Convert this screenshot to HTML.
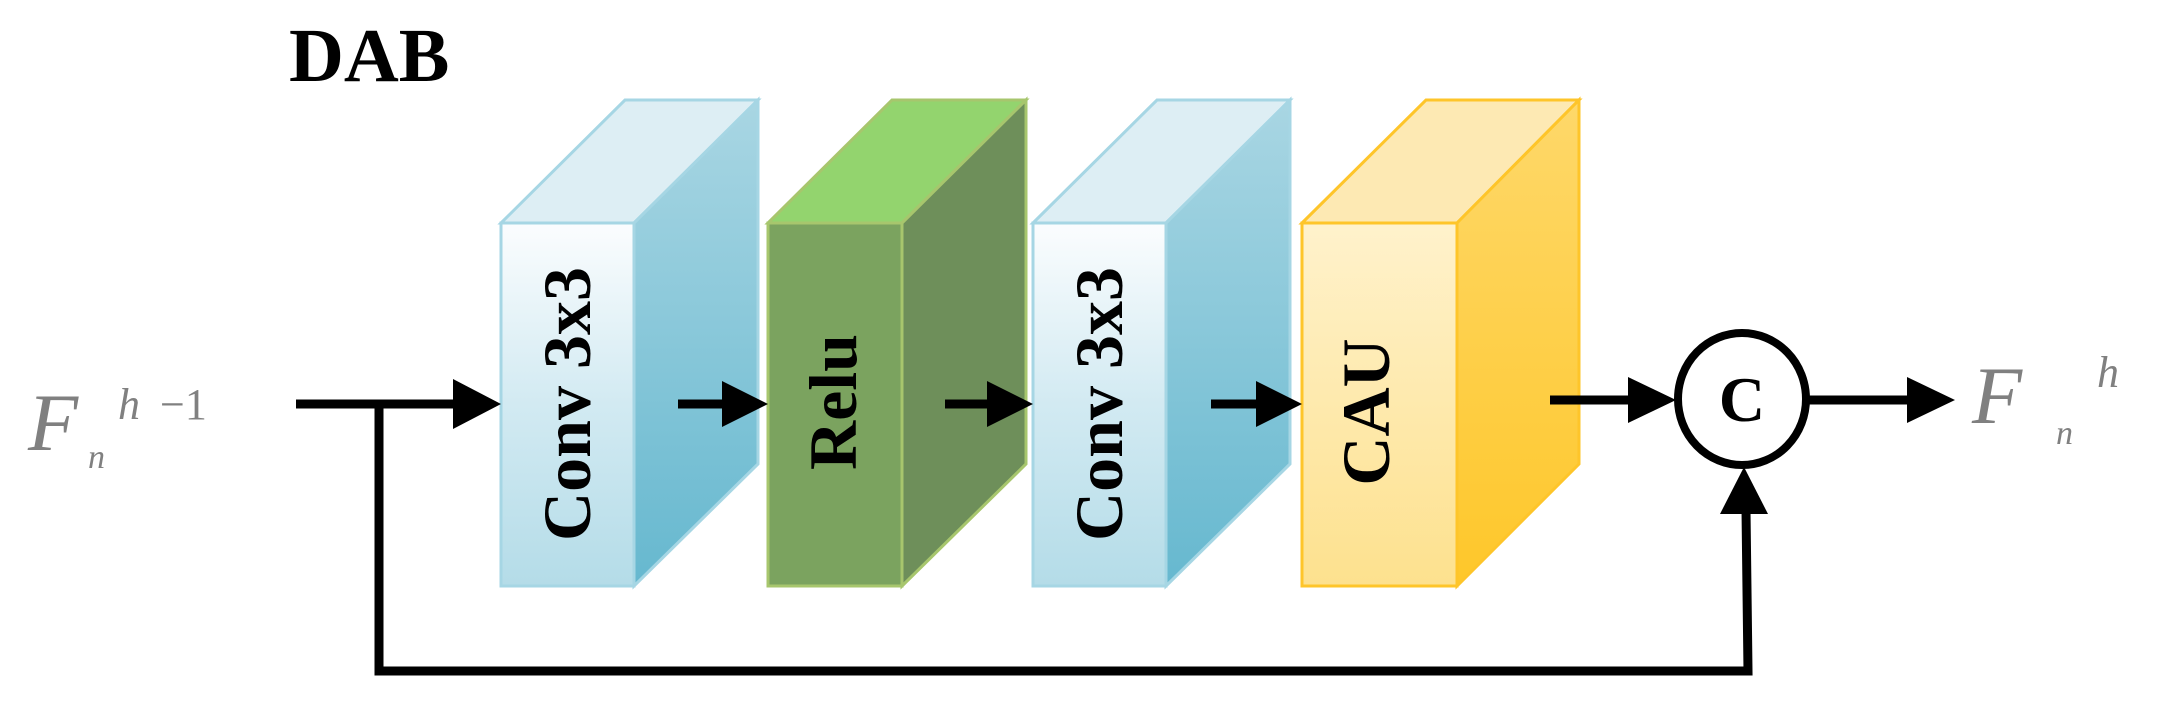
<!DOCTYPE html>
<html><head><meta charset="utf-8"><style>html,body{margin:0;padding:0;background:#fff}svg{display:block}text{font-family:"Liberation Serif","Times New Roman",serif}</style></head>
<body>
<svg width="2159" height="706" viewBox="0 0 2159 706" xmlns="http://www.w3.org/2000/svg">
<defs>
<linearGradient id="bf" x1="0" y1="0" x2="0" y2="1"><stop offset="0" stop-color="#fbfdfe"/><stop offset="0.5" stop-color="#d2eaf2"/><stop offset="1" stop-color="#b4dce8"/></linearGradient>
<linearGradient id="bs" x1="0" y1="0" x2="0" y2="1"><stop offset="0" stop-color="#a9d6e3"/><stop offset="1" stop-color="#66b8cf"/></linearGradient>
<linearGradient id="yf" x1="0" y1="0" x2="0" y2="1"><stop offset="0" stop-color="#fff2cc"/><stop offset="1" stop-color="#fde18e"/></linearGradient>
<linearGradient id="ys" x1="0" y1="0" x2="0" y2="1"><stop offset="0" stop-color="#fed86a"/><stop offset="1" stop-color="#fec72a"/></linearGradient>
</defs>
<text x="289" y="81" font-weight="bold" font-size="76">DAB</text>

<g stroke="#a6d6e4" stroke-width="3">
<polygon points="501,223 625,100 758,100 634,223" fill="#ddeef4"/>
<polygon points="634,223 758,100 758,464 634,586" fill="url(#bs)"/>
<rect x="501" y="223" width="133" height="363" fill="url(#bf)"/>
</g>
<g stroke="#a7c66d" stroke-width="3">
<polygon points="768,223 892,100 1026,100 902,223" fill="#93d46e"/>
<polygon points="902,223 1026,100 1026,464 902,586" fill="#6e8f5a"/>
<rect x="768" y="223" width="134" height="363" fill="#7ba35f"/>
</g>
<g stroke="#a6d6e4" stroke-width="3">
<polygon points="1033,223 1157,100 1290,100 1166,223" fill="#ddeef4"/>
<polygon points="1166,223 1290,100 1290,464 1166,586" fill="url(#bs)"/>
<rect x="1033" y="223" width="133" height="363" fill="url(#bf)"/>
</g>
<g stroke="#fec52a" stroke-width="3">
<polygon points="1302,223 1426,100 1579,100 1457,223" fill="#fde9b3"/>
<polygon points="1457,223 1579,100 1579,464 1457,586" fill="url(#ys)"/>
<rect x="1302" y="223" width="155" height="363" fill="url(#yf)"/>
</g>

<g font-weight="bold" font-size="68" fill="#000" text-anchor="middle">
<text transform="translate(590,404) rotate(-90)">Conv 3x3</text>
<text transform="translate(856,402) rotate(-90)">Relu</text>
<text transform="translate(1122,404) rotate(-90)">Conv 3x3</text>
<text transform="translate(1389,412) rotate(-90)">CAU</text>
</g>

<g stroke="#000" stroke-width="9" fill="none">
<line x1="296" y1="404" x2="460" y2="404"/>
<polyline points="379,404 379,671 1748,671 1746,510"/>
<line x1="678" y1="404" x2="730" y2="404"/>
<line x1="945" y1="404" x2="995" y2="404"/>
<line x1="1211" y1="404" x2="1262" y2="404"/>
<line x1="1550" y1="400" x2="1632" y2="400"/>
<line x1="1809" y1="400" x2="1912" y2="400"/>
<ellipse cx="1742" cy="399" rx="64" ry="66" fill="#fff" stroke-width="8"/>
</g>
<g fill="#000">
<polygon points="501,404 453,379 453,429"/>
<polygon points="768,404 722,381 722,427"/>
<polygon points="1033,404 987,381 987,427"/>
<polygon points="1302,404 1256,381 1256,427"/>
<polygon points="1676,400 1628,377 1628,423"/>
<polygon points="1955,400 1907,377 1907,423"/>
<polygon points="1744,467 1720,514 1768,514"/>
</g>
<text x="1742" y="421" font-weight="bold" font-size="64" text-anchor="middle">C</text>

<g font-style="italic" fill="#808080">
<text x="28" y="450" font-size="82">F</text>
<text x="88" y="468" font-size="34">n</text>
<text x="118" y="419" font-size="44">h</text>
<text x="160" y="419" font-size="44" font-style="normal">−1</text>
<text x="1972" y="423" font-size="82">F</text>
<text x="2056" y="444" font-size="34">n</text>
<text x="2097" y="387" font-size="44">h</text>
</g>
</svg>
</body></html>
